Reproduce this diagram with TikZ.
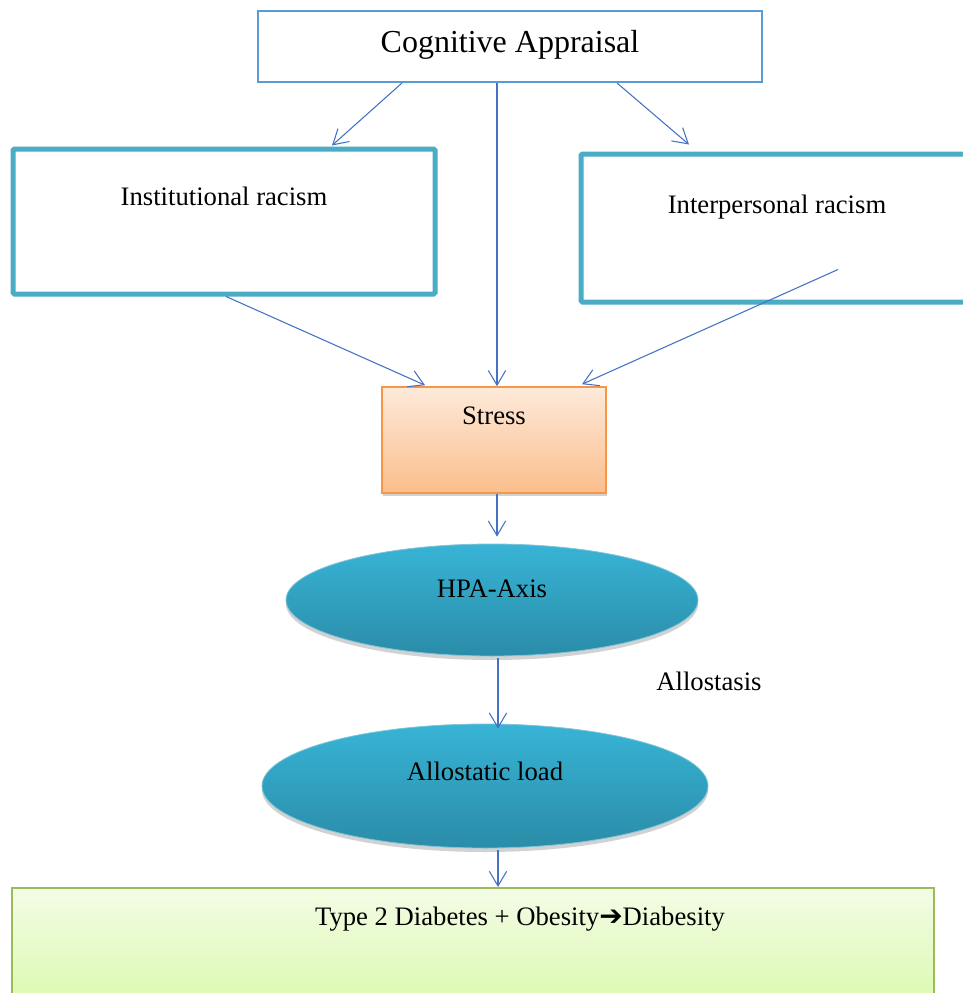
\documentclass[tikz,border=0pt]{standalone}
\usepackage{fontspec}
\setmainfont{Liberation Serif}
\newfontfamily\arrowfont{DejaVu Sans}
\usetikzlibrary{positioning, calc, arrows.meta, shapes.geometric, shadows}

\definecolor{appblue}{RGB}{91,155,213}
\definecolor{racblue}{RGB}{75,172,198}
\definecolor{linkblue}{RGB}{68,114,196}
\definecolor{stressline}{RGB}{247,150,70}
\definecolor{stresstop}{RGB}{253,234,218}
\definecolor{stressbot}{RGB}{251,190,140}
\definecolor{hpatop}{RGB}{56,180,214}
\definecolor{hpabot}{RGB}{42,140,168}
\definecolor{diabline}{RGB}{155,187,89}
\definecolor{diabtop}{RGB}{243,252,230}
\definecolor{diabbot}{RGB}{216,249,168}

\begin{document}
\begin{tikzpicture}[x=0.75pt, y=-0.75pt,
  font=\fontsize{20pt}{24pt}\selectfont,
  appbox/.style={rectangle, draw=appblue, line width=1.5pt, inner sep=0pt, anchor=base},
  racebox/.style={rectangle, draw=racblue, line width=3.75pt, rounded corners=1pt, inner sep=0pt, anchor=base},
  stressbox/.style={rectangle, draw=stressline, line width=1.2pt, inner sep=0pt, anchor=base,
    top color=stresstop, bottom color=stressbot,
    drop shadow={shadow xshift=1pt, shadow yshift=-2.5pt, opacity=0.35}},
  bubble/.style={ellipse, draw=racblue!70!white, line width=0.6pt, inner sep=0pt,
    top color=hpatop, bottom color=hpabot, text height=14pt,
    drop shadow={shadow xshift=0pt, shadow yshift=-3pt, opacity=0.35}},
  diabox/.style={rectangle, draw=diabline, line width=1.5pt, inner sep=0pt,
    top color=diabtop, bottom color=diabbot},
  link/.style={->, >={Straight Barb[length=11pt,width=13pt]}, draw=linkblue, line width=0.8pt}]

\useasboundingbox (0,0) rectangle (963,993);
\fill[white] (0,0) rectangle (963,993);
\clip (0,0) rectangle (963,993);

\node[appbox, minimum width=378pt, text height=30.75pt, text depth=22.5pt,
  font=\fontsize{24pt}{28pt}\selectfont] (cog) at (510,52) {Cognitive Appraisal};

\node[racebox, minimum width=316.5pt, text height=42pt, text depth=66.75pt] (inst) at (224,205) {Institutional racism};
\node[racebox, minimum width=294pt, text height=44.25pt, text depth=66.75pt] (inter) at (777,213) {Interpersonal racism};

\node[stressbox, minimum width=168pt, text height=27.75pt, text depth=51.75pt] (stress) at (494,424) {Stress};

\node[bubble, minimum width=309pt, minimum height=84pt, text depth=18.5pt] (hpa) at (492,600) {HPA-Axis};
\node[anchor=base] (allo) at (709,690) {Allostasis};
\node[bubble, minimum width=334.5pt, minimum height=93pt, text depth=23pt] (load) at (485,786) {Allostatic load};

\node[diabox, minimum width=691.5pt, minimum height=99pt] (diab) at (473,954) {};
\node[anchor=base] (diabtxt) at (520,925) {Type 2 Diabetes + Obesity{\arrowfont\fontsize{21pt}{21pt}\selectfont ➔}Diabesity};

% appraisal feeds both kinds of racism and stress
\draw[link] ($(cog.south)+(-108,0)$) -- ($(inst.north)+(108,-1)$);
\draw[link] ($(cog.south)+(-13,0)$) -- ($(stress.north)+(3,0)$);
\draw[link] ($(cog.south)+(107,0)$) -- ($(inter.north)+(-88,-7)$);

\draw[link] ($(inst.south)+(2,0)$) -- ($(stress.north)+(-69,-1)$);
\draw[link] ($(inter.south)+(61,-35)$) -- ($(stress.north)+(88,-2)$);

\draw[link] ($(stress.south)+(3,0)$) -- ($(hpa.north)+(5,-7)$);
\draw[link] ($(hpa.south)+(6,2)$) -- ($(load.north)+(13,5)$);
\draw[link] ($(load.south)+(13,2)$) -- ($(diab.north)+(25,0)$);
\end{tikzpicture}
\end{document}
